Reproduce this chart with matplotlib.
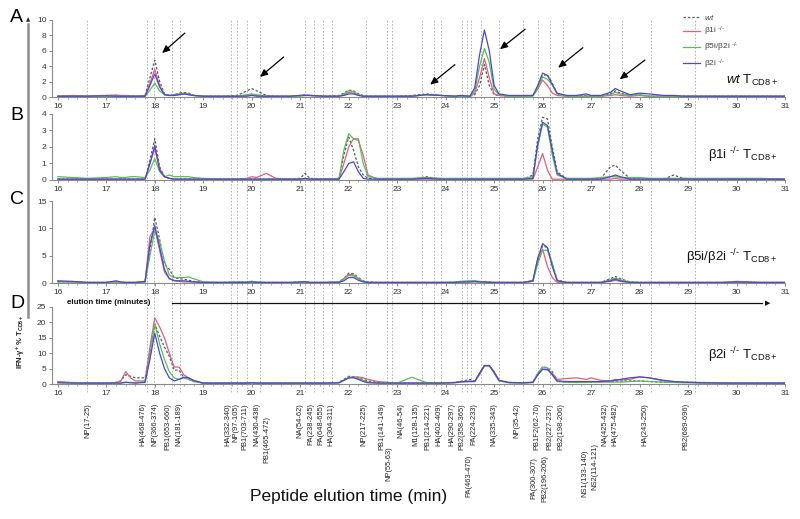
import matplotlib
matplotlib.use("Agg")
import matplotlib.pyplot as plt
from matplotlib.ticker import MultipleLocator
from matplotlib.lines import Line2D
from matplotlib.transforms import blended_transform_factory

plt.rcParams["font.family"] = ["Liberation Sans", "DejaVu Sans"]
plt.rcParams["mathtext.fontset"] = "custom"
plt.rcParams["mathtext.rm"] = "Liberation Sans"
plt.rcParams["mathtext.it"] = "Liberation Sans:italic"
plt.rcParams["mathtext.bf"] = "Liberation Sans:bold"
plt.rcParams["mathtext.default"] = "regular"

# shared sampling grid (minutes)
elution_min = [
    16.0, 16.3, 16.6, 17.0, 17.2, 17.3, 17.4, 17.5, 17.6, 17.8,
    17.9, 18.0, 18.1, 18.2, 18.3, 18.4, 18.5, 18.6, 18.7, 18.8,
    19.0, 19.4, 19.7, 19.9, 20.0, 20.1, 20.3, 20.5, 20.8, 21.0,
    21.1, 21.2, 21.5, 21.8, 21.9, 22.0, 22.1, 22.2, 22.3, 22.4,
    22.6, 23.0, 23.3, 23.6, 23.9, 24.2, 24.3, 24.5, 24.6, 24.7,
    24.8, 24.9, 25.0, 25.1, 25.3, 25.6, 25.8, 25.9, 26.0, 26.1,
    26.2, 26.3, 26.5, 26.7, 26.9, 27.0, 27.2, 27.4, 27.5, 27.6,
    27.8, 28.0, 28.2, 28.5, 28.7, 28.9, 29.3, 29.7, 30.0, 30.5, 31.0,
]

# panel A: wt T cells
a_wt = [
    0.1, 0.15, 0.1, 0.2, 0.2, 0.15, 0.1, 0.1, 0.1, 0.2,
    2.5, 4.8, 2.0, 0.4, 0.2, 0.3, 0.5, 0.6, 0.5, 0.2,
    0.1, 0.1, 0.2, 0.8, 1.1, 0.8, 0.2, 0.1, 0.1, 0.2,
    0.3, 0.2, 0.1, 0.2, 0.5, 0.9, 0.8, 0.4, 0.2, 0.1,
    0.1, 0.1, 0.2, 0.4, 0.2, 0.1, 0.2, 0.1, 0.3, 1.5,
    4.2, 1.5, 0.3, 0.2, 0.1, 0.1, 0.2, 1.2, 2.8, 2.9,
    1.8, 0.4, 0.1, 0.1, 0.2, 0.1, 0.1, 0.4, 0.8, 0.5,
    0.2, 0.3, 0.1, 0.1, 0.1, 0.1, 0.1, 0.1, 0.1, 0.1, 0.1,
]
a_b1i = [
    0.1, 0.2, 0.15, 0.2, 0.25, 0.2, 0.2, 0.15, 0.1, 0.2,
    1.8, 3.6, 1.5, 0.3, 0.2, 0.2, 0.3, 0.4, 0.3, 0.2,
    0.1, 0.1, 0.1, 0.2, 0.3, 0.2, 0.1, 0.1, 0.1, 0.2,
    0.2, 0.2, 0.1, 0.1, 0.3, 0.6, 0.5, 0.3, 0.1, 0.1,
    0.1, 0.1, 0.1, 0.3, 0.2, 0.1, 0.1, 0.1, 0.5, 2.5,
    5.0, 2.5, 0.4, 0.2, 0.1, 0.1, 0.2, 1.0, 2.2, 1.5,
    0.5, 0.2, 0.1, 0.1, 0.1, 0.1, 0.1, 0.2, 0.3, 0.2,
    0.1, 0.2, 0.1, 0.1, 0.1, 0.1, 0.1, 0.1, 0.1, 0.1, 0.1,
]
a_b5i = [
    0.1, 0.1, 0.1, 0.1, 0.1, 0.1, 0.1, 0.1, 0.1, 0.1,
    0.9, 1.8, 0.8, 0.3, 0.2, 0.3, 0.4, 0.5, 0.4, 0.2,
    0.1, 0.1, 0.1, 0.3, 0.4, 0.3, 0.1, 0.1, 0.1, 0.1,
    0.2, 0.2, 0.1, 0.1, 0.4, 0.8, 0.7, 0.3, 0.1, 0.1,
    0.1, 0.1, 0.1, 0.3, 0.2, 0.1, 0.1, 0.1, 0.8, 4.0,
    6.3, 4.5, 1.0, 0.3, 0.1, 0.1, 0.1, 1.2, 2.6, 2.3,
    1.6, 0.4, 0.1, 0.1, 0.1, 0.1, 0.1, 0.3, 0.6, 0.4,
    0.2, 0.3, 0.1, 0.1, 0.1, 0.1, 0.1, 0.1, 0.1, 0.1, 0.1,
]
a_b2i = [
    0.1, 0.1, 0.1, 0.15, 0.1, 0.1, 0.1, 0.1, 0.1, 0.1,
    1.5, 3.0, 1.3, 0.3, 0.2, 0.2, 0.3, 0.4, 0.3, 0.2,
    0.1, 0.1, 0.1, 0.1, 0.2, 0.1, 0.1, 0.1, 0.1, 0.2,
    0.2, 0.2, 0.1, 0.1, 0.2, 0.4, 0.4, 0.2, 0.1, 0.1,
    0.1, 0.1, 0.1, 0.3, 0.2, 0.1, 0.2, 0.1, 1.2, 5.5,
    8.7, 6.0, 1.5, 0.4, 0.2, 0.2, 0.2, 1.5, 3.1, 2.8,
    1.6, 0.5, 0.2, 0.2, 0.4, 0.2, 0.2, 0.6, 1.1, 0.8,
    0.3, 0.5, 0.4, 0.2, 0.2, 0.1, 0.1, 0.1, 0.1, 0.1, 0.1,
]

# panel B: beta1i-/- T cells
b_wt = [
    0.05, 0.05, 0.05, 0.05, 0.05, 0.05, 0.05, 0.05, 0.05, 0.05,
    1.2, 2.5, 0.8, 0.2, 0.1, 0.05, 0.05, 0.05, 0.05, 0.05,
    0.05, 0.05, 0.05, 0.05, 0.05, 0.05, 0.05, 0.05, 0.05, 0.1,
    0.4, 0.1, 0.05, 0.1, 1.5, 2.6, 1.8, 0.8, 0.3, 0.1,
    0.05, 0.05, 0.05, 0.2, 0.05, 0.05, 0.05, 0.05, 0.05, 0.05,
    0.05, 0.05, 0.05, 0.05, 0.05, 0.05, 0.3, 2.5, 3.8, 3.7,
    2.0, 0.5, 0.05, 0.05, 0.05, 0.05, 0.1, 0.8, 0.9, 0.6,
    0.1, 0.05, 0.05, 0.05, 0.3, 0.1, 0.05, 0.05, 0.05, 0.05, 0.05,
]
b_b1i = [
    0.05, 0.05, 0.05, 0.05, 0.05, 0.05, 0.05, 0.05, 0.05, 0.05,
    1.0, 1.9, 0.7, 0.2, 0.1, 0.05, 0.05, 0.05, 0.05, 0.05,
    0.05, 0.05, 0.05, 0.1, 0.2, 0.15, 0.4, 0.1, 0.05, 0.05,
    0.05, 0.05, 0.05, 0.05, 1.0, 2.0, 2.5, 2.4, 1.5, 0.3,
    0.05, 0.05, 0.05, 0.05, 0.05, 0.05, 0.05, 0.05, 0.05, 0.05,
    0.05, 0.05, 0.05, 0.05, 0.05, 0.05, 0.05, 0.8, 1.6, 0.6,
    0.05, 0.05, 0.05, 0.05, 0.05, 0.05, 0.05, 0.05, 0.1, 0.05,
    0.05, 0.05, 0.05, 0.05, 0.05, 0.05, 0.05, 0.05, 0.05, 0.05, 0.05,
]
b_b5i = [
    0.2, 0.15, 0.1, 0.15, 0.2, 0.15, 0.15, 0.2, 0.2, 0.15,
    0.6, 1.3, 0.5, 0.2, 0.3, 0.2, 0.2, 0.2, 0.2, 0.15,
    0.1, 0.05, 0.05, 0.05, 0.05, 0.05, 0.05, 0.05, 0.05, 0.05,
    0.1, 0.05, 0.05, 0.1, 1.8, 2.8, 2.5, 2.5, 1.0, 0.2,
    0.1, 0.1, 0.1, 0.15, 0.1, 0.1, 0.1, 0.1, 0.1, 0.1,
    0.1, 0.1, 0.1, 0.1, 0.1, 0.1, 0.2, 2.0, 3.4, 3.2,
    1.5, 0.3, 0.1, 0.1, 0.1, 0.1, 0.15, 0.2, 0.2, 0.15,
    0.15, 0.15, 0.1, 0.1, 0.1, 0.1, 0.1, 0.1, 0.1, 0.1, 0.05,
]
b_b2i = [
    0.05, 0.05, 0.05, 0.05, 0.05, 0.05, 0.05, 0.05, 0.05, 0.05,
    1.0, 2.1, 0.6, 0.2, 0.1, 0.05, 0.05, 0.05, 0.05, 0.05,
    0.05, 0.05, 0.05, 0.05, 0.05, 0.05, 0.05, 0.05, 0.05, 0.05,
    0.1, 0.05, 0.05, 0.05, 0.5, 1.0, 1.1, 0.5, 0.1, 0.05,
    0.05, 0.05, 0.05, 0.1, 0.05, 0.05, 0.05, 0.05, 0.05, 0.05,
    0.05, 0.05, 0.05, 0.05, 0.05, 0.05, 0.1, 2.2, 3.5, 3.3,
    1.8, 0.4, 0.05, 0.05, 0.05, 0.05, 0.05, 0.2, 0.3, 0.2,
    0.05, 0.05, 0.05, 0.05, 0.05, 0.05, 0.05, 0.05, 0.05, 0.05, 0.05,
]

# panel C: beta5i/beta2i-/- T cells
c_wt = [
    0.2, 0.2, 0.1, 0.1, 0.2, 0.1, 0.1, 0.1, 0.1, 0.2,
    6.0, 12.0, 8.0, 3.5, 2.5, 1.0, 0.8, 0.7, 0.5, 0.3,
    0.1, 0.1, 0.2, 0.2, 0.3, 0.2, 0.1, 0.1, 0.1, 0.2,
    0.3, 0.1, 0.1, 0.2, 0.8, 1.8, 1.7, 1.0, 0.4, 0.2,
    0.1, 0.1, 0.1, 0.1, 0.1, 0.1, 0.2, 0.3, 0.3, 0.2,
    0.2, 0.2, 0.1, 0.1, 0.1, 0.1, 0.3, 4.0, 6.8, 6.5,
    3.5, 0.6, 0.1, 0.1, 0.1, 0.1, 0.1, 0.8, 1.2, 0.8,
    0.2, 0.1, 0.1, 0.1, 0.1, 0.1, 0.1, 0.1, 0.1, 0.1, 0.1,
]
c_b1i = [
    0.3, 0.2, 0.1, 0.1, 0.2, 0.1, 0.1, 0.1, 0.1, 0.3,
    8.5, 10.0, 6.0, 2.0, 0.8, 0.5, 0.3, 0.2, 0.2, 0.2,
    0.1, 0.1, 0.1, 0.1, 0.2, 0.1, 0.1, 0.1, 0.1, 0.1,
    0.2, 0.1, 0.1, 0.2, 0.8, 1.6, 1.5, 0.8, 0.3, 0.1,
    0.1, 0.1, 0.1, 0.1, 0.1, 0.1, 0.1, 0.2, 0.2, 0.2,
    0.2, 0.1, 0.1, 0.1, 0.1, 0.1, 0.5, 4.5, 6.2, 3.0,
    1.0, 0.1, 0.1, 0.1, 0.1, 0.1, 0.1, 0.3, 0.5, 0.3,
    0.1, 0.1, 0.1, 0.1, 0.1, 0.1, 0.1, 0.1, 0.3, 0.1, 0.1,
]
c_b5i = [
    0.2, 0.2, 0.1, 0.1, 0.2, 0.1, 0.1, 0.1, 0.1, 0.1,
    5.0, 9.5, 7.5, 4.0, 1.5, 1.0, 1.0, 1.0, 1.1, 0.8,
    0.2, 0.1, 0.2, 0.2, 0.3, 0.2, 0.1, 0.1, 0.1, 0.1,
    0.2, 0.1, 0.1, 0.2, 0.7, 1.4, 1.3, 0.8, 0.3, 0.1,
    0.1, 0.1, 0.1, 0.1, 0.1, 0.2, 0.3, 0.4, 0.4, 0.3,
    0.2, 0.2, 0.1, 0.1, 0.1, 0.1, 0.3, 3.5, 6.0, 6.0,
    3.5, 0.5, 0.1, 0.1, 0.1, 0.1, 0.1, 0.6, 0.9, 0.6,
    0.2, 0.1, 0.1, 0.1, 0.1, 0.1, 0.1, 0.1, 0.1, 0.1, 0.1,
]
c_b2i = [
    0.4, 0.3, 0.1, 0.1, 0.4, 0.2, 0.1, 0.1, 0.1, 0.3,
    7.0, 10.5, 6.5, 2.5, 0.8, 0.4, 0.4, 0.4, 0.3, 0.2,
    0.1, 0.1, 0.1, 0.1, 0.2, 0.1, 0.1, 0.1, 0.1, 0.2,
    0.2, 0.1, 0.1, 0.1, 0.4, 1.0, 1.0, 0.5, 0.2, 0.1,
    0.1, 0.1, 0.1, 0.1, 0.1, 0.1, 0.2, 0.2, 0.3, 0.2,
    0.2, 0.1, 0.1, 0.1, 0.1, 0.1, 0.4, 4.5, 7.2, 6.5,
    3.0, 0.4, 0.1, 0.1, 0.1, 0.1, 0.1, 0.4, 0.7, 0.4,
    0.1, 0.1, 0.1, 0.1, 0.1, 0.1, 0.1, 0.1, 0.2, 0.1, 0.1,
]

# panel D: beta2i-/- T cells
d_wt = [
    0.5, 0.4, 0.3, 0.3, 0.5, 1.0, 3.0, 2.5, 2.0, 2.0,
    10.0, 19.5, 15.5, 12.0, 9.0, 4.5, 4.5, 2.0, 1.5, 0.8,
    0.3, 0.3, 0.3, 0.3, 0.4, 0.3, 0.3, 0.3, 0.3, 0.3,
    0.4, 0.3, 0.3, 0.5, 1.5, 2.5, 2.4, 2.0, 1.5, 1.0,
    0.5, 0.3, 0.3, 0.3, 0.3, 0.5, 0.8, 1.5, 1.0, 3.5,
    6.0, 6.0, 4.0, 1.2, 0.5, 0.4, 0.6, 3.5, 5.5, 5.3,
    4.0, 1.0, 0.6, 0.5, 0.6, 0.6, 0.8, 1.0, 1.0, 1.0,
    1.0, 1.0, 0.8, 0.6, 0.8, 0.6, 0.4, 0.4, 0.3, 0.3, 0.3,
]
d_b1i = [
    0.8, 0.5, 0.3, 0.3, 0.5, 1.0, 4.0, 2.0, 1.0, 1.0,
    12.0, 21.5, 18.5, 15.0, 10.0, 5.5, 5.5, 3.0, 2.0, 1.0,
    0.3, 0.3, 0.3, 0.3, 0.4, 0.3, 0.3, 0.3, 0.3, 0.3,
    0.3, 0.3, 0.3, 0.4, 1.2, 2.0, 2.3, 2.3, 2.0, 1.5,
    0.8, 0.3, 0.3, 0.3, 0.3, 0.4, 0.6, 1.0, 0.8, 3.0,
    5.8, 6.0, 4.0, 1.2, 0.5, 0.4, 0.6, 3.0, 4.8, 4.5,
    3.5, 1.5, 1.8, 2.0, 1.5, 2.0, 1.2, 1.0, 1.5, 1.3,
    1.5, 2.3, 2.0, 1.0, 0.8, 0.6, 0.5, 0.4, 0.3, 0.3, 0.3,
]
d_b5i = [
    0.5, 0.4, 0.3, 0.3, 0.3, 0.3, 0.5, 0.5, 0.4, 0.8,
    9.0, 19.5, 13.0, 8.0, 4.0, 2.0, 1.5, 2.0, 1.5, 0.8,
    0.3, 0.3, 0.3, 0.3, 0.4, 0.3, 0.3, 0.3, 0.3, 0.3,
    0.3, 0.3, 0.3, 0.4, 1.2, 2.2, 2.2, 1.8, 1.2, 0.6,
    0.3, 0.3, 2.2, 0.5, 0.3, 0.5, 0.8, 0.8, 0.8, 3.5,
    6.0, 5.8, 3.5, 1.0, 0.4, 0.3, 0.5, 3.5, 5.5, 5.3,
    3.0, 0.8, 0.6, 0.5, 0.6, 0.6, 0.6, 0.6, 0.6, 0.6,
    0.8, 1.0, 0.8, 0.6, 0.5, 0.4, 0.3, 0.3, 0.3, 0.3, 0.3,
]
d_b2i = [
    0.4, 0.3, 0.3, 0.3, 0.3, 0.3, 0.6, 0.4, 0.3, 0.5,
    8.0, 16.5, 10.0, 5.0, 2.0, 1.0, 1.5, 2.2, 2.0, 1.2,
    0.3, 0.3, 0.3, 0.3, 0.4, 0.3, 0.3, 0.3, 0.3, 0.3,
    0.3, 0.3, 0.3, 0.4, 1.2, 2.0, 2.0, 1.5, 0.8, 0.4,
    0.3, 0.3, 0.3, 0.3, 0.3, 0.5, 0.7, 0.8, 0.8, 3.5,
    6.0, 6.0, 3.8, 1.2, 0.5, 0.4, 0.5, 3.0, 4.8, 4.8,
    3.0, 1.0, 0.8, 0.8, 0.8, 0.8, 0.8, 1.0, 1.2, 1.5,
    2.0, 2.3, 2.0, 1.2, 0.8, 0.6, 0.4, 0.3, 0.3, 0.3, 0.3,
]

# predicted elution times of the epitopes (dashed guide lines)
epitope_lines = [
    16.61, 17.83, 17.98, 18.35, 18.52, 19.58, 19.69, 19.90, 20.17,
    21.10, 21.28, 21.47, 21.65, 22.35, 22.79, 22.89, 23.52, 23.76,
    23.90, 24.33, 24.45, 24.53, 24.72, 25.10, 25.59, 25.90, 26.16,
    26.42, 27.37, 27.64, 28.23, 29.14,
]
peptide_names = [
    "NP(17-25)", "HA(468-476)", "NP(366-374)", "PB1(653-660)", "NA(181-189)",
    "HA(332-340)", "NP(97-105)", "PB1(703-711)", "NA(430-438)", "PB1(465-472)",
    "NA(54-62)", "PA(238-245)", "PA(648-655)", "HA(304-311)", "NP(217-225)",
    "PB1(141-149)", "NP(55-63)", "NA(46-54)", "M1(128-135)", "PB1(214-221)",
    "HA(402-409)", "HA(290-297)", "PB2(358-365)", "PA(463-470)", "PA(224-233)",
    "NA(335-343)", "NP(35-42)", "PA(300-307)", "PB1F2(62-70)", "PB2(196-206)",
    "PB2(227-237)", "PB2(198-206)", "NS1(133-140)", "NS2(114-121)", "NA(425-432)",
    "HA(475-482)", "HA(243-250)", "PB2(689-696)",
]
peptide_times = [
    16.61, 17.75, 18.01, 18.27, 18.50,
    19.50, 19.67, 19.85, 20.10, 20.32,
    21.00, 21.21, 21.43, 21.64, 22.32,
    22.68, 22.83, 23.07, 23.38, 23.64,
    23.86, 24.13, 24.33, 24.47, 24.58,
    24.99, 25.46, 25.83, 25.89, 26.04,
    26.15, 26.38, 26.87, 27.07, 27.28,
    27.50, 28.10, 28.95,
]

KO = r"$^{\text{-/-}}$"
series_names = [r"$\mathit{wt}$", "β1i " + KO, "β5i/β2i " + KO, "β2i " + KO]
colors = ["#5a5a5a", "#e06080", "#55c055", "#4848d0"]
styles = [(0, (2.0, 1.5)), "-", "-", "-"]

TCD8 = r" T$_{CD8+}$"
panels = [
    ("A", [a_wt, a_b1i, a_b5i, a_b2i], 10, 2, r"$\mathit{wt}$" + TCD8, 0.22),
    ("B", [b_wt, b_b1i, b_b5i, b_b2i], 4, 1, "β1i " + KO + TCD8, 0.375),
    ("C", [c_wt, c_b1i, c_b5i, c_b2i], 15, 5, "β5i/β2i " + KO + TCD8, 0.32),
    ("D", [d_wt, d_b1i, d_b5i, d_b2i], 25, 5, "β2i " + KO + TCD8, 0.375),
]
# [bottom, height] in figure fraction for each panel
rects = [(0.8131, 0.1484), (0.6532, 0.1272), (0.4547, 0.1580), (0.2601, 0.1484)]
letter_y = [18, 115, 200, 303]

W, H = 800, 519
fig = plt.figure(figsize=(W / 100, H / 100), dpi=100)
axes = []
for (letter, data, ymax, ystep, tag, tag_y), (bot, hgt), ly in zip(panels, rects, letter_y):
    ax = fig.add_axes([0.065, bot, 0.91625, hgt])
    for vals, c, ls in zip(data, colors, styles):
        ax.plot(elution_min, vals, color=c, ls=ls, lw=0.9)
    ax.set_xlim(15.88, 31.0)
    ax.set_ylim(0, ymax)
    ax.set_yticks(range(0, ymax + 1, ystep))
    ax.set_xticks(range(16, 32))
    ax.xaxis.set_minor_locator(MultipleLocator(0.2))
    for s in ("top", "right"):
        ax.spines[s].set_visible(False)
    for s in ("left", "bottom"):
        ax.spines[s].set_color("#8a8a8a")
        ax.spines[s].set_linewidth(0.8)
    ax.tick_params(which="major", length=2.5, width=0.7, color="#8a8a8a",
                   labelsize=6, labelcolor="#333333", pad=1.5)
    ax.tick_params(which="minor", axis="x", length=1.3, width=0.5, color="#8a8a8a")
    ax.patch.set_alpha(0)
    ax.text(0.99, tag_y, tag, transform=ax.transAxes, ha="right", va="center",
            fontsize=9.5, color="#111111")
    fig.text(10 / W, 1 - ly / H, letter, fontsize=14, ha="left", va="center")
    axes.append(ax)

axA = axes[0]

# dashed epitope guide lines spanning all panels
trans = blended_transform_factory(axA.transData, fig.transFigure)
for t in epitope_lines:
    fig.add_artist(Line2D([t, t], [1 - 392 / H, 1 - 19 / H], transform=trans,
                          color="#a8a8a8", lw=0.6, ls=(0, (2, 2)), zorder=0))

# peptide labels below panel D
lowered = {"PB1(465-472)": 416, "NP(55-63)": 446, "PA(463-470)": 455,
           "PA(300-307)": 457, "PB2(196-206)": 455, "NS1(133-140)": 450,
           "NS2(114-121)": 443}
for name, t in zip(peptide_names, peptide_times):
    top = lowered.get(name, 403)
    fig.text(t, 1 - top / H, name, transform=trans, rotation=90,
             ha="center", va="top", fontsize=5.4, color="#222222")

# legend in panel A
handles = [Line2D([], [], color=c, ls=ls, lw=0.9) for c, ls in zip(colors, styles)]
fig.legend(handles, series_names, loc="upper left", bbox_to_anchor=(683 / W, 1 - 13 / H),
           frameon=False, fontsize=6, handlelength=2.0, handletextpad=0.5,
           labelspacing=0.35, borderaxespad=0, borderpad=0, labelcolor="#444444")

# arrows pointing at peaks in panel A
arrow_tails = [(18.62, 8.3), (20.66, 5.2), (24.19, 4.2), (25.64, 8.8), (26.83, 6.4), (28.11, 4.8)]
arrow_heads = [(18.15, 5.7), (20.17, 2.6), (23.68, 1.6), (25.12, 6.2), (26.32, 3.8), (27.59, 2.3)]
for tail, head in zip(arrow_tails, arrow_heads):
    axA.annotate("", xy=head, xytext=tail,
                 arrowprops=dict(arrowstyle="-|>,head_length=0.45,head_width=0.2",
                                 color="black", lw=0.9, shrinkA=0, shrinkB=0))

# vertical axis arrow on the far left
fig.add_artist(Line2D([28 / W, 28 / W], [1 - 317 / H, 1 - 24 / H], color="#8c8c8c", lw=1.8))
fig.text(28 / W, 1 - 20 / H, "▲", fontsize=4, ha="center", va="center", color="#222222",
         family="DejaVu Sans")

# elution time arrow between panels C and D
fig.text(67 / W, 1 - 302 / H, "elution time (minutes)", fontsize=5.8, fontweight="bold",
         ha="left", va="center", color="#111111")
fig.add_artist(Line2D([172 / W, 762 / W], [1 - 303 / H, 1 - 303 / H], color="#111111", lw=0.9))
fig.text(768 / W, 1 - 303 / H, "▶", fontsize=5, ha="center", va="center", color="#111111",
         family="DejaVu Sans")

# y label of panel D
fig.text(21 / W, 1 - 342 / H, r"IFN-γ$^{+}$ % T$_{CD8+}$", rotation=90, fontsize=5.5,
         fontweight="bold", ha="center", va="center", color="#222222")

fig.text(250 / W, 1 - 497 / H, "Peptide elution time (min)", fontsize=12.5,
         ha="left", va="center", color="#111111")

fig.savefig("out.png", dpi=100)
